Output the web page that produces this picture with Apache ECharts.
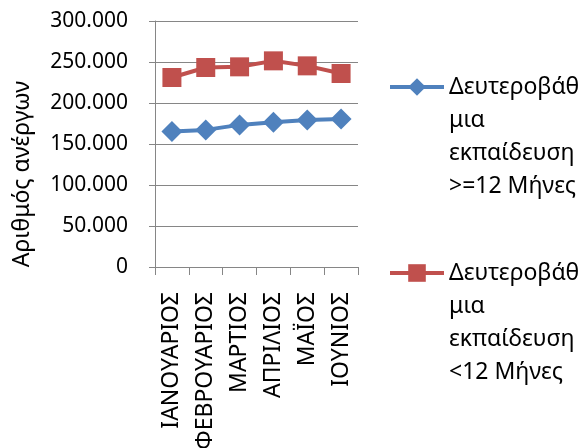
<!DOCTYPE html>
<html>
<head>
<meta charset="utf-8">
<script src="https://cdn.jsdelivr.net/npm/echarts@6/dist/echarts.min.js"></script>
<style>
  html, body { margin: 0; padding: 0; background: #fff; }
  #chart { width: 584px; height: 448px; }
</style>
</head>
<body>
<div id="chart"></div>
<script>
  var months = ["ΙΑΝΟΥΑΡΙΟΣ", "ΦΕΒΡΟΥΑΡΙΟΣ", "ΜΑΡΤΙΟΣ", "ΑΠΡΙΛΙΟΣ", "ΜΑΪΟΣ", "ΙΟΥΝΙΟΣ"];
  var seriesNames = ["Δευτεροβάθμια εκπαίδευση >=12 Μήνες", "Δευτεροβάθμια εκπαίδευση <12 Μήνες"];
  // legend text is wrapped the same way as in the picture
  var legendLabels = ["Δευτεροβάθ\nμια\nεκπαίδευση\n>=12 Μήνες", "Δευτεροβάθ\nμια\nεκπαίδευση\n<12 Μήνες"];
  var longTerm = [165200, 167200, 173300, 176500, 179400, 180600];
  var shortTerm = [231100, 243300, 244100, 251400, 245300, 236000];
  var yTicks = [0, 50000, 100000, 150000, 200000, 250000, 300000];
  var yAxisTitle = "Αριθμός ανέργων";

  var font = "Noto Sans";
  var gray = "#868686";

  var chart = echarts.init(document.getElementById("chart"));

  function legendFor(i, top) {
    return {
      data: [seriesNames[i]],
      left: 388,
      top: top,
      padding: 0,
      itemWidth: 54,
      itemHeight: 22,
      lineStyle: { width: 4 },
      // empty lines in front so the icon sits on the first text line
      formatter: function () { return "\n\n\n" + legendLabels[i]; },
      textStyle: {
        fontFamily: font,
        fontSize: 23,
        color: "#000",
        lineHeight: 33
      }
    };
  }

  var option = {
    animation: false,
    textStyle: { fontFamily: font },
    legend: [legendFor(0, -28.5), legendFor(1, 157.5)],
    grid: {
      left: 155, right: 226, top: 21, bottom: 181,
      containLabel: false,
      outerBoundsMode: "none" // labels are allowed to run off the bottom
    },
    xAxis: {
      type: "category",
      data: months,
      boundaryGap: true,
      axisLine: { lineStyle: { color: gray, width: 1 } },
      axisTick: { show: true, length: 8, lineStyle: { color: gray } },
      axisLabel: {
        rotate: 90,
        margin: 25,
        fontSize: 23,
        fontFamily: font,
        color: "#000",
        interval: 0
      }
    },
    yAxis: {
      type: "value",
      min: yTicks[0],
      max: yTicks[yTicks.length - 1],
      interval: yTicks[1] - yTicks[0],
      axisLine: { show: true, lineStyle: { color: gray, width: 1 } },
      axisTick: { show: true, length: 6, lineStyle: { color: gray } },
      splitLine: { lineStyle: { color: gray, width: 1 } },
      axisLabel: {
        margin: 27,
        fontSize: 21,
        fontFamily: font,
        color: "#000",
        formatter: function (v) { return v === 0 ? "0" : (v / 1000) + ".000"; }
      }
    },
    graphic: [{
      type: "text",
      x: 22,
      y: 174,
      rotation: Math.PI / 2,
      style: {
        text: yAxisTitle,
        font: "23px " + font,
        fill: "#000",
        align: "center",
        verticalAlign: "middle"
      }
    }],
    series: [
      {
        name: seriesNames[0],
        type: "line",
        data: longTerm,
        symbol: "diamond",
        symbolSize: 21,
        color: "#4F81BD",
        lineStyle: { width: 4, color: "#4F81BD" },
        itemStyle: { color: "#4F81BD" }
      },
      {
        name: seriesNames[1],
        type: "line",
        data: shortTerm,
        symbol: "rect",
        symbolSize: 19,
        color: "#C0504D",
        lineStyle: { width: 4, color: "#C0504D" },
        itemStyle: { color: "#C0504D" }
      }
    ]
  };

  chart.setOption(option);
</script>
</body>
</html>
